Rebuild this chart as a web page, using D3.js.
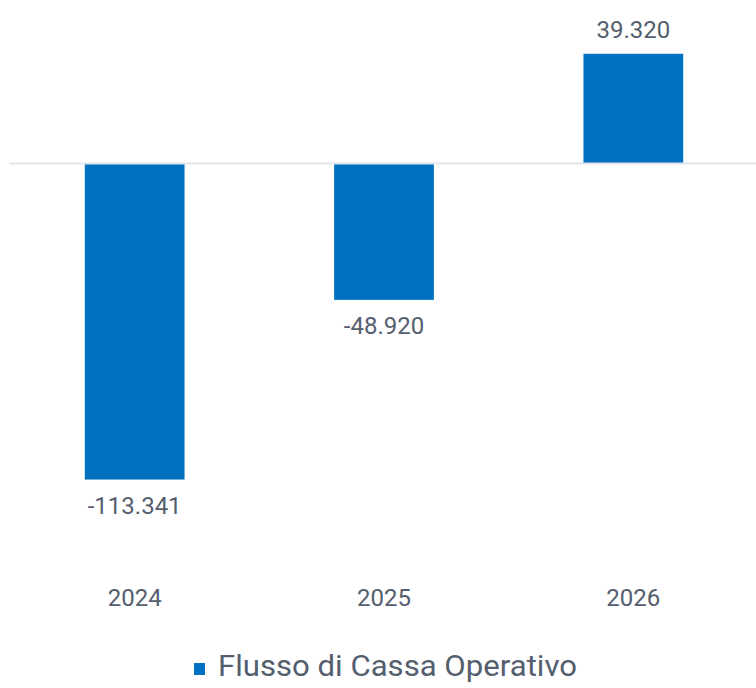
<!DOCTYPE html>
<html>
<head>
<meta charset="utf-8">
<script src="https://cdn.jsdelivr.net/npm/d3@7"></script>
<style>
  body { margin: 0; background: #fff; }
  text { font-family: Roboto, "Noto Sans", sans-serif; fill: #545e6e; }
</style>
</head>
<body>
<div id="chart"></div>
<script>
var years = ["2024", "2025", "2026"];
var values = [-113.341, -48.920, 39.320];
var labels = ["-113.341", "-48.920", "39.320"];
var seriesName = "Flusso di Cassa Operativo";

var width = 756, height = 688;
var barColor = "#0070c0";

var svg = d3.select("#chart").append("svg")
  .attr("width", width)
  .attr("height", height);

var x = d3.scaleBand()
  .domain(years)
  .range([10, 758])
  .paddingInner(0.6)
  .paddingOuter(0.3);

var y = d3.scaleLinear()
  .domain([-130, 50])
  .range([526, 24]);

// bars
svg.selectAll("rect.bar")
  .data(values)
  .enter()
  .append("rect")
  .attr("class", "bar")
  .attr("x", function(d, i) { return x(years[i]); })
  .attr("width", x.bandwidth())
  .attr("y", function(d) { return Math.min(y(d), y(0)); })
  .attr("height", function(d) { return Math.abs(y(d) - y(0)); })
  .style("fill", barColor);

// zero line
svg.append("line")
  .attr("x1", 10)
  .attr("x2", width)
  .attr("y1", y(0))
  .attr("y2", y(0))
  .style("stroke", "#e1e5eb")
  .style("stroke-width", 2);

// value labels
svg.selectAll("text.val")
  .data(values)
  .enter()
  .append("text")
  .attr("class", "val")
  .attr("x", function(d, i) { return x(years[i]) + x.bandwidth() / 2; })
  .attr("y", function(d) { return d >= 0 ? y(d) - 16 : y(d) + 34; })
  .attr("text-anchor", "middle")
  .style("font-size", "24px")
  .text(function(d, i) { return labels[i]; });

// category axis (labels only)
var xAxis = d3.axisBottom(x).tickSize(0).tickPadding(0);
var gx = svg.append("g")
  .attr("transform", "translate(0,588)")
  .call(xAxis);
gx.select(".domain").remove();
gx.selectAll("text")
  .attr("dy", "0.76em")
  .style("font-size", "24px")
  .style("font-family", "Roboto, 'Noto Sans', sans-serif")
  .style("fill", "#545e6e");

// legend
var legend = svg.append("g").attr("transform", "translate(194,663)");
legend.append("rect")
  .attr("width", 11)
  .attr("height", 12)
  .style("fill", barColor);
legend.append("text")
  .attr("x", 24)
  .attr("y", 13)
  .attr("textLength", 359)
  .attr("lengthAdjust", "spacingAndGlyphs")
  .style("font-size", "29px")
  .text(seriesName);
</script>
</body>
</html>
